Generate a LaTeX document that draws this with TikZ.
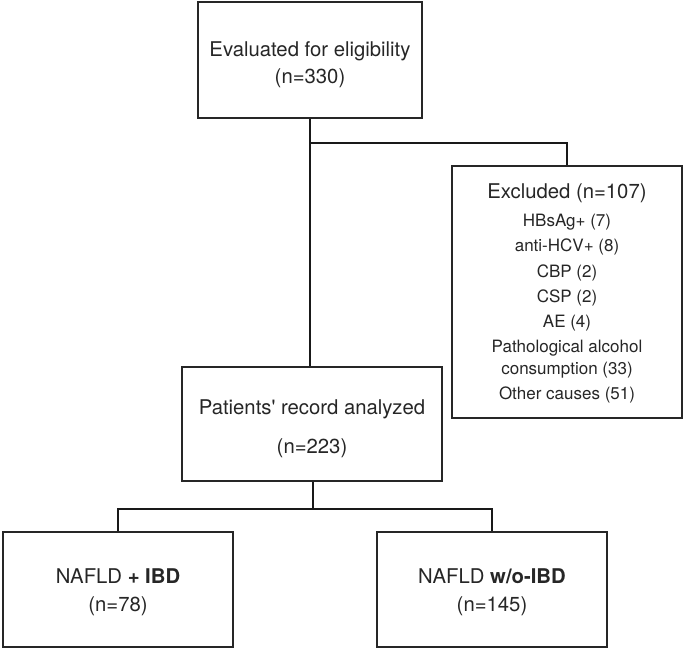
\documentclass[tikz,border=0pt]{standalone}
\usepackage{fontspec}
\setmainfont{TeX Gyre Heros}
\begin{document}
\begin{tikzpicture}[x=1pt,y=-1pt,
  box/.style={draw=black!85, line width=1.2pt, rectangle, inner sep=0pt},
  big/.style={anchor=base, inner sep=0pt, font=\fontsize{20.3}{24}\selectfont, text=black!85},
  small/.style={anchor=base, inner sep=0pt, font=\fontsize{17}{20}\selectfont, text=black!85},
  conn/.style={line width=1.5pt, draw=black!90},
  mainconn/.style={line width=2.4pt, draw=black!90}]
\useasboundingbox (0,0) rectangle (685,651);

% boxes
\node[box, minimum width=224pt, minimum height=116pt] (elig) at (310,60) {};
\node[box, minimum width=230pt, minimum height=252pt] (excl) at (567,292) {};
\node[box, minimum width=260pt, minimum height=114pt] (pat) at (312,424) {};
\node[box, minimum width=230pt, minimum height=115pt] (ibd) at (118,589.5) {};
\node[box, minimum width=230pt, minimum height=115pt] (noibd) at (492,589.5) {};

% texts
\node[big] (t1) at (310,56) {Evaluated for eligibility};
\node[big] (t2) at (310,83) {(n=330)};

\node[big] (e0) at (567,198) {Excluded (n=107)};
\node[small] (e1) at (567,226) {HBsAg+ (7)};
\node[small] (e2) at (567,251) {anti-HCV+ (8)};
\node[small] (e3) at (567,277) {CBP (2)};
\node[small] (e4) at (567,302) {CSP (2)};
\node[small] (e5) at (567,327) {AE (4)};
\node[small] (e6) at (567,352) {Pathological alcohol};
\node[small] (e7) at (567,374) {consumption (33)};
\node[small] (e8) at (567,399) {Other causes (51)};

\node[big] (p1) at (312,414) {Patients\textquotesingle{} record analyzed};
\node[big] (p2) at (312,453) {(n=223)};

\node[big] (b1) at (118,583) {NAFLD \textbf{+ IBD}};
\node[big] (b2) at (118,611) {(n=78)};
\node[big] (c1) at (492,583) {NAFLD \textbf{w/o-IBD}};
\node[big] (c2) at (492,611) {(n=145)};

% connectors
\coordinate (br) at (310,143);
\coordinate (bot) at (313,509);
\draw[mainconn] (elig.south) -- (elig.south |- pat.north);
\draw[conn] (br) -| (excl.north);
\draw[conn] (pat.south -| bot) -- (bot);
\draw[conn] (ibd.north) |- (bot) -| (noibd.north);
\end{tikzpicture}
\end{document}
